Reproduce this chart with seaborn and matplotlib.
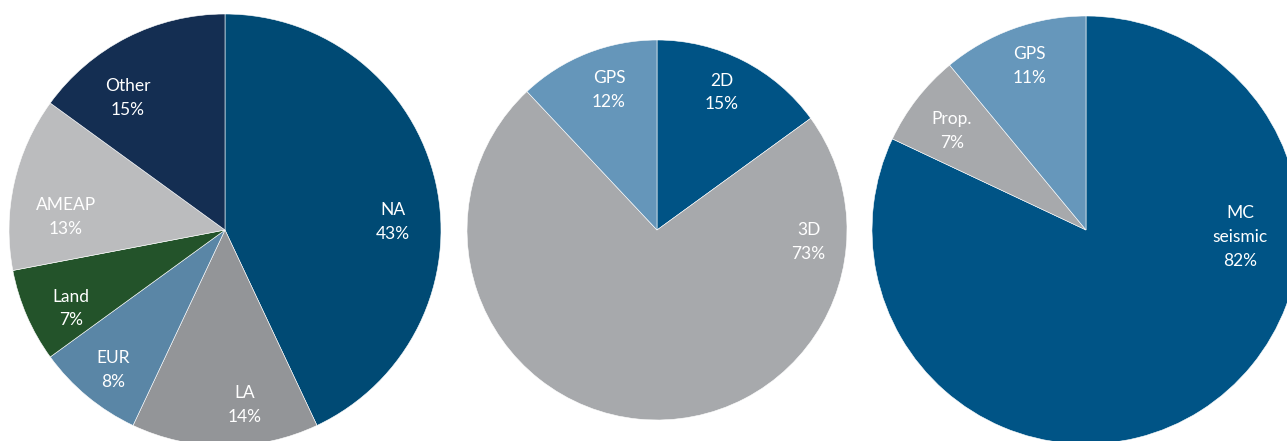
import numpy as np
import matplotlib
matplotlib.use("Agg")
import matplotlib.pyplot as plt
import seaborn as sns

# ---- data ----
region_labels = ["NA", "LA", "EUR", "Land", "AMEAP", "Other"]
region_values = [43, 14, 8, 7, 13, 15]

tech_labels = ["2D", "3D", "GPS"]
tech_values = [15, 73, 12]

product_labels = ["MC\nseismic", "Prop.", "GPS"]
product_values = [82, 7, 11]

# ---- style ----
region_colors = ["#004A74", "#939598", "#5A86A6", "#23532A", "#BBBCBE", "#142E52"]
tech_colors = ["#005385", "#A7A9AC", "#6596BA"]
product_colors = ["#005486", "#A7A9AC", "#6697BB"]

# label placement (angle in degrees, distance as fraction of radius)
region_label_pos = [(2.7, 0.78), (-83.5, 0.815), (-128.7, 0.83), (-153, 0.80), (175.4, 0.74), (126.3, 0.76)]
tech_label_pos = [(64.8, 0.80), (-4.5, 0.80), (108.9, 0.78)]
product_label_pos = [(-2.6, 0.72), (143.5, 0.78), (108.9, 0.81)]

sns.set_theme(style="white")
plt.rcParams["font.family"] = ["Lato", "DejaVu Sans"]

W, H = 1287, 441
fig = plt.figure(figsize=(W / 100, H / 100), dpi=100)

pies = [
    (region_labels, region_values, region_colors, (225, 230, 216), region_label_pos),
    (tech_labels, tech_values, tech_colors, (657, 230, 190), tech_label_pos),
    (product_labels, product_values, product_colors, (1086, 230, 214), product_label_pos),
]

for labels, values, colors, (cx, cy, r), lpos in pies:
    left = (cx - r) / W
    bottom = (H - cy - r) / H
    ax = fig.add_axes([left, bottom, 2 * r / W, 2 * r / H])
    wedges, _ = ax.pie(values, colors=colors, startangle=90, counterclock=False,
                       radius=1.0,
                       wedgeprops=dict(edgecolor="white", linewidth=0.4))
    ax.set_xlim(-1, 1)
    ax.set_ylim(-1, 1)
    ax.set_aspect("equal")
    ax.axis("off")
    total = sum(values)
    for lab, v, (ang, dist) in zip(labels, values, lpos):
        x = dist * np.cos(np.radians(ang))
        y = dist * np.sin(np.radians(ang))
        pct = round(100 * v / total)
        ax.text(x, y, f"{lab}\n{pct}%", ha="center", va="center",
                color="white", fontsize=12.5, linespacing=1.6)

fig.savefig("out.png", dpi=100)
